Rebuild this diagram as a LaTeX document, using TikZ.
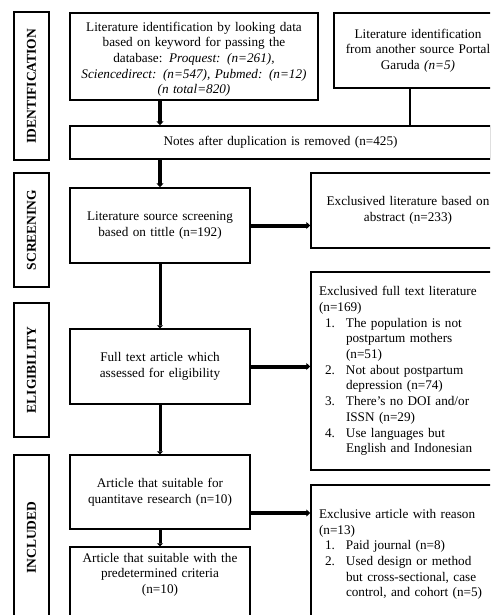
\documentclass[tikz,border=0pt]{standalone}
\usepackage{fontspec}
\setmainfont{Liberation Serif}
\usetikzlibrary{arrows.meta}
\newcommand{\numline}[1]{\hspace*{6pt}\makebox[21pt][l]{#1}}
\newcommand{\contline}{\hspace*{27pt}}
\begin{document}
\begin{tikzpicture}[x=1pt,y=-1pt,
    stage/.style={draw,line width=1.5pt,rotate=90,minimum height=35pt,inner sep=0pt,
      font=\bfseries\fontsize{13.5}{15}\selectfont},
    box/.style={draw,line width=1.5pt,align=center,inner xsep=6pt,inner ysep=0pt,
      font=\fontsize{13.2}{15.7}\selectfont},
    leftbox/.style={box,align=left,inner xsep=8pt},
    heavy/.style={line width=4pt,-{Triangle[length=4pt,width=7pt]}},
    medium/.style={line width=3pt,-{Triangle[length=3pt,width=6pt]}},
    thin/.style={line width=1.5pt}]
    \useasboundingbox (0,0) rectangle (490,615);
    \clip (0,0) rectangle (490,615);
    % stages
    \node[stage,minimum width=148pt] (idst) at (31.5,86) {IDENTIFICATION};
    \node[stage,minimum width=114pt] (scst) at (31.5,230) {SCREENING};
    \node[stage,minimum width=134pt] (elst) at (31.5,370) {ELIGIBILITY};
    \node[stage,minimum width=165pt] (inst) at (31.5,537.5) {INCLUDED};
    % identification
    \node[box,minimum width=248pt,minimum height=87pt,text width=236pt,text depth=60pt] (idsrc) at (194,56.5)
      {Literature identification by looking data\\ based on keyword for passing the\\
       database: \textit{Proquest: (n=261),}\\ \textit{Sciencedirect: (n=547), Pubmed: (n=12)}\\
       \textit{(n total=820)}};
    \node[box,minimum width=166pt,minimum height=75pt,text width=156pt] (othsrc) at (418,50.5)
      {Literature identification\\ from another source Portal\\ Garuda \textit{(n=5)}};
    \node[box,minimum width=421pt,minimum height=33pt,text width=409pt] (notes) at (280.5,142.5)
      {Notes after duplication is removed (n=425)};
    % screening
    \node[box,minimum width=180pt,minimum height=75pt,text width=168pt] (scr) at (160,225.5)
      {Literature source screening\\ based on tittle (n=192)};
    \node[box,minimum width=194pt,minimum height=75pt,text width=182pt] (absex) at (408,210.5)
      {Exclusived literature based on\\ abstract (n=233)};
    % eligibility
    \node[box,minimum width=180pt,minimum height=75pt,text width=168pt] (full) at (160,366.5)
      {Full text article which\\ assessed for eligibility};
    \node[leftbox,minimum width=194pt,minimum height=198pt,text width=178pt] (fullex) at (408,371)
      {Exclusived full text literature\\ (n=169)\\
       \numline{1.}The population is not\\ \contline postpartum mothers\\ \contline (n=51)\\
       \numline{2.}Not about postpartum\\ \contline depression (n=74)\\
       \numline{3.}There’s no DOI and/or\\ \contline ISSN (n=29)\\
       \numline{4.}Use languages but\\ \contline English and Indonesian};
    % included
    \node[box,minimum width=180pt,minimum height=74pt,text width=168pt] (quant) at (160,492)
      {Article that suitable for\\ quantitave research (n=10)};
    \node[leftbox,minimum width=194pt,minimum height=139pt,text width=178pt] (artex) at (408,554.5)
      {Exclusive article with reason\\ (n=13)\\
       \numline{1.}Paid journal (n=8)\\
       \numline{2.}Used design or method\\ \contline but cross-sectional, case\\
       \contline control, and cohort (n=5)};
    \node[box,minimum width=180pt,minimum height=73pt,text width=168pt,text depth=52pt] (suit) at (160,583.5)
      {Article that suitable with the\\ predetermined criteria\\ (n=10)};
    % connectors
    \draw[heavy] (idsrc.south -| scr.north) -- (notes.north -| scr.north);
    \draw[thin] ([xshift=-8pt]othsrc.south) -- ([xshift=-8pt]othsrc.south |- notes.north);
    \draw[heavy] (notes.south -| scr.north) -- (scr.north);
    \draw[heavy] (scr.east) -- (scr.east -| absex.west);
    \draw[medium] (scr.south) -- (full.north);
    \draw[heavy] (full.east) -- (full.east -| fullex.west);
    \draw[medium] (full.south) -- (quant.north);
    \draw[heavy] ([yshift=-21pt]quant.east) -- ([yshift=-21pt]quant.east -| artex.west);
    \draw[medium] (quant.south) -- (suit.north);
\end{tikzpicture}
\end{document}
